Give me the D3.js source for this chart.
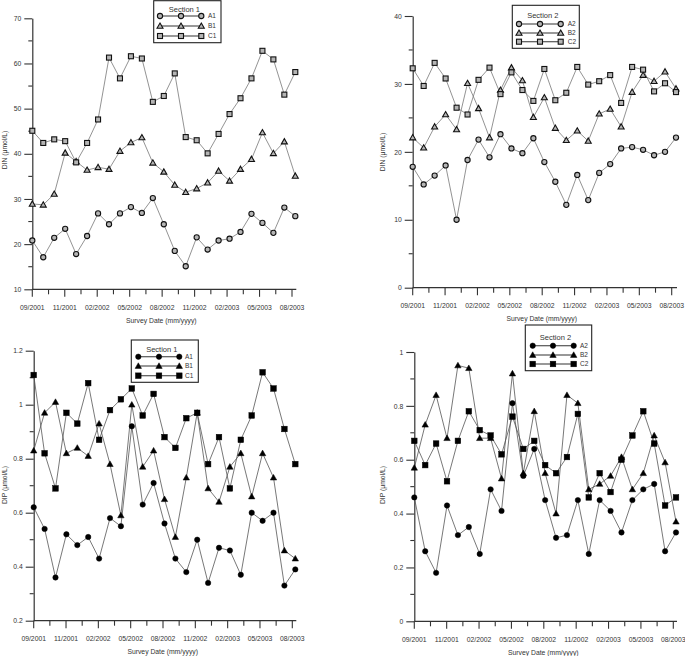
<!DOCTYPE html>
<html>
<head>
<meta charset="utf-8">
<script src="https://cdn.jsdelivr.net/npm/d3@7"></script>
<style>
  body { margin: 0; background: #fff; }
  svg text { font-family: "Liberation Sans", Arial, sans-serif; fill: #333; }
</style>
</head>
<body>
<div id="chart"></div>
<script>
// tick labels on the date axis (every other tick is labelled)
var dateLabels = ["09/2001", "11/2001", "02/2002", "05/2002", "08/2002", "11/2002", "02/2003", "05/2003", "08/2003"];

// DIN, section 1 (umol/L), 25 surveys
var dinA1 = [20.8, 17.1, 21.4, 23.4, 17.8, 21.8, 26.8, 24.4, 26.8, 28.2, 26.9, 30.2, 24.4, 18.5, 15.1, 21.5, 18.8, 20.8, 21.2, 22.7, 26.7, 24.7, 22.5, 28.1, 26.2];
var dinB1 = [28.9, 28.7, 31.1, 40.2, 38.3, 36.4, 37.0, 36.6, 40.6, 42.5, 43.6, 38.0, 36.0, 33.1, 31.5, 32.3, 33.6, 36.2, 34.0, 36.6, 38.8, 44.7, 40.1, 42.7, 35.1];
var dinC1 = [45.1, 42.4, 43.2, 42.8, 38.1, 42.4, 47.6, 61.3, 56.7, 61.6, 61.1, 51.5, 52.8, 57.8, 43.7, 43.0, 40.1, 44.4, 48.8, 52.3, 56.7, 62.8, 60.9, 53.1, 58.1];

// DIN, section 2
var dinA2 = [17.8, 15.2, 16.5, 18.0, 10.0, 18.8, 21.8, 19.2, 22.6, 20.5, 19.8, 22.0, 18.5, 15.6, 12.2, 16.6, 12.9, 16.9, 18.2, 20.5, 20.7, 20.3, 19.5, 20.0, 22.1];
var dinB2 = [22.1, 20.6, 23.7, 25.5, 23.3, 30.1, 26.4, 22.1, 29.1, 32.4, 30.5, 25.1, 28.0, 23.5, 21.7, 23.1, 21.6, 25.6, 26.3, 23.7, 28.8, 31.3, 30.4, 31.8, 29.3];
var dinC2 = [32.3, 29.7, 33.1, 30.8, 26.5, 25.5, 30.6, 32.4, 28.5, 31.7, 29.1, 27.5, 32.2, 27.6, 28.7, 32.5, 29.9, 30.4, 31.3, 27.2, 32.5, 32.1, 28.9, 30.1, 28.8];

// DIP, section 1
var dipA1 = [0.62, 0.54, 0.36, 0.52, 0.48, 0.51, 0.43, 0.58, 0.55, 0.92, 0.63, 0.71, 0.56, 0.43, 0.38, 0.50, 0.34, 0.47, 0.46, 0.37, 0.60, 0.57, 0.60, 0.33, 0.39];
var dipB1 = [0.83, 0.97, 1.01, 0.82, 0.84, 0.81, 0.93, 0.78, 0.59, 1.00, 0.77, 0.83, 0.65, 0.51, 0.73, 0.97, 0.69, 0.64, 0.77, 0.82, 0.66, 0.82, 0.73, 0.46, 0.43];
var dipC1 = [1.11, 0.82, 0.69, 0.97, 0.93, 1.08, 0.87, 0.98, 1.02, 1.06, 0.96, 1.04, 0.88, 0.84, 0.95, 0.97, 0.78, 0.88, 0.69, 0.87, 0.96, 1.12, 1.06, 0.91, 0.78];

// DIP, section 2
var dipA2 = [0.46, 0.26, 0.18, 0.43, 0.32, 0.35, 0.25, 0.49, 0.41, 0.81, 0.54, 0.64, 0.45, 0.31, 0.32, 0.45, 0.25, 0.45, 0.41, 0.33, 0.45, 0.49, 0.51, 0.26, 0.33];
var dipB2 = [0.57, 0.73, 0.84, 0.68, 0.95, 0.94, 0.68, 0.68, 0.53, 0.92, 0.55, 0.78, 0.55, 0.40, 0.84, 0.81, 0.49, 0.51, 0.54, 0.61, 0.49, 0.55, 0.69, 0.59, 0.37];
var dipC2 = [0.67, 0.58, 0.66, 0.52, 0.67, 0.78, 0.71, 0.69, 0.62, 0.76, 0.64, 0.67, 0.58, 0.55, 0.61, 0.77, 0.46, 0.55, 0.48, 0.60, 0.69, 0.78, 0.66, 0.43, 0.46];

var w = 685, h = 656;

var svg = d3.select("#chart").append("svg")
            .attr("width", w)
            .attr("height", h);

var panels = [
  { x0: 32.3, span: 263, tickSpan: 259.7, yTop: 18.3, yBot: 289.3, domain: [10, 70],
    major: [10, 20, 30, 40, 50, 60, 70], minor: [15, 25, 35, 45, 55, 65], fmt: d3.format("d"),
    yTitle: "DIN (\u03bcmol/L)", yTitleX: 5, yTitleY: 150, filled: false,
    series: [["A1", dinA1, "circle"], ["B1", dinB1, "triangle"], ["C1", dinC1, "square"]],
    legend: { x1: 153.7, y1: 0.7, x2: 221, y2: 42.7, title: "Section 1", ty: 9, rows: [16, 26, 36], mx: [160, 181, 201.3], lx: 208 } },
  { x0: 412.7, span: 263.3, tickSpan: 259, yTop: 16, yBot: 287.7, domain: [0, 40],
    major: [0, 10, 20, 30, 40], minor: [5, 15, 25, 35], fmt: d3.format("d"),
    yTitle: "DIN (\u03bcmol/L)", yTitleX: 383, yTitleY: 152, filled: false,
    series: [["A2", dinA2, "circle"], ["B2", dinB2, "triangle"], ["C2", dinC2, "square"]],
    legend: { x1: 512.3, y1: 5.3, x2: 579.3, y2: 48.3, title: "Section 2", ty: 15.7, rows: [24, 33, 41.7], mx: [519, 540, 560.7], lx: 567.7 } },
  { x0: 33.7, span: 261.6, tickSpan: 258.6, yTop: 350.7, yBot: 620.7, domain: [0.2, 1.2],
    major: [0.2, 0.4, 0.6, 0.8, 1, 1.2], minor: [0.3, 0.5, 0.7, 0.9, 1.1], fmt: function(d) { return String(+d.toFixed(1)); },
    yTitle: "DIP (\u03bcmol/L)", yTitleX: 5, yTitleY: 485, filled: true,
    series: [["A1", dipA1, "circle"], ["B1", dipB1, "triangle"], ["C1", dipC1, "square"]],
    legend: { x1: 131.3, y1: 340, x2: 198.3, y2: 382.3, title: "Section 1", ty: 349, rows: [356.7, 366, 375.7], mx: [138.3, 159, 179.3], lx: 185 } },
  { x0: 414.3, span: 261.7, tickSpan: 259, yTop: 352, yBot: 621.3, domain: [0, 1],
    major: [0, 0.2, 0.4, 0.6, 0.8, 1], minor: [0.1, 0.3, 0.5, 0.7, 0.9], fmt: function(d) { return String(+d.toFixed(1)); },
    yTitle: "DIP (\u03bcmol/L)", yTitleX: 383, yTitleY: 485, filled: true,
    series: [["A2", dipA2, "circle"], ["B2", dipB2, "triangle"], ["C2", dipC2, "square"]],
    legend: { x1: 525.3, y1: 325, x2: 591.7, y2: 370.7, title: "Section 2", ty: 337.3, rows: [345.7, 355, 364], mx: [532.7, 553, 573.7], lx: 580 } }
];

function marker(g, shape, x, y, filled) {
  var m;
  if (shape == "circle") {
    m = g.append("circle").attr("cx", x).attr("cy", y).attr("r", filled ? 2.7 : 2.6);
  } else if (shape == "square") {
    var s = filled ? 5.6 : 5;
    m = g.append("rect").attr("x", x - s / 2).attr("y", y - s / 2).attr("width", s).attr("height", s);
  } else {
    var t = filled ? 3.2 : 3;
    m = g.append("path").attr("d", "M" + x + "," + (y - t) + "L" + (x + t) + "," + (y + t * 0.75) + "L" + (x - t) + "," + (y + t * 0.75) + "Z");
  }
  if (filled) {
    m.attr("fill", "#000").attr("stroke", "#000").attr("stroke-width", 0.5);
  } else {
    m.attr("fill", "#b5b5b5").attr("stroke", "#111").attr("stroke-width", 1.1);
  }
  return m;
}

panels.forEach(function(p) {
  var g = svg.append("g");

  var x = d3.scaleLinear().domain([0, 24]).range([p.x0, p.x0 + p.span]);
  var xt = d3.scaleLinear().domain([0, 16]).range([p.x0, p.x0 + p.tickSpan]);
  var y = d3.scaleLinear().domain(p.domain).range([p.yBot, p.yTop]);

  // y axis: major ticks with labels, short minor ticks
  var yAxis = g.append("g").attr("transform", "translate(" + p.x0 + ",0)")
      .call(d3.axisLeft(y).tickValues(p.major).tickFormat(p.fmt).tickSize(8).tickSizeOuter(0).tickPadding(3));
  yAxis.select(".domain").attr("stroke", "#333").attr("stroke-width", 1.2);
  yAxis.selectAll(".tick line").attr("stroke", "#333").attr("stroke-width", 1.1);
  yAxis.selectAll("text").attr("font-size", 6.8).attr("fill", "#444").attr("font-family", "Liberation Sans, Arial, sans-serif");
  g.selectAll(".yminor").data(p.minor).enter().append("line")
      .attr("x1", p.x0 - 4).attr("x2", p.x0)
      .attr("y1", function(d) { return y(d); }).attr("y2", function(d) { return y(d); })
      .attr("stroke", "#333").attr("stroke-width", 1.1);

  // x axis with 17 ticks, labels on every other one
  g.append("line").attr("x1", p.x0).attr("x2", p.x0 + p.span + 1).attr("y1", p.yBot).attr("y2", p.yBot)
      .attr("stroke", "#333").attr("stroke-width", 1.2);
  g.selectAll(".xtick").data(d3.range(17)).enter().append("line")
      .attr("x1", function(d) { return xt(d); }).attr("x2", function(d) { return xt(d); })
      .attr("y1", p.yBot).attr("y2", function(d) { return p.yBot + (d % 2 == 0 ? 7.5 : 5); })
      .attr("stroke", "#333").attr("stroke-width", 1.1);
  g.selectAll(".xlab").data(dateLabels).enter().append("text")
      .attr("x", function(d, i) { return xt(i * 2); })
      .attr("y", p.yBot + 20.5)
      .attr("text-anchor", "middle").attr("font-size", 6.8).attr("fill", "#444")
      .text(function(d) { return d; });

  g.append("text").attr("x", p.x0 + 129).attr("y", p.yBot + 33.5)
      .attr("text-anchor", "middle").attr("font-size", 6.8).attr("fill", "#444")
      .text("Survey Date (mm/yyyy)");
  g.append("text").attr("transform", "translate(" + p.yTitleX + "," + p.yTitleY + ") rotate(-90)")
      .attr("dy", "0.35em").attr("text-anchor", "middle").attr("font-size", 6.8).attr("fill", "#444")
      .text(p.yTitle);

  var line = d3.line().x(function(d, i) { return x(i); }).y(function(d) { return y(d); });

  p.series.forEach(function(s) {
    g.append("path").datum(s[1]).attr("d", line)
        .attr("fill", "none").attr("stroke", p.filled ? "#555" : "#777").attr("stroke-width", 0.8);
  });
  p.series.forEach(function(s) {
    var mg = g.append("g");
    s[1].forEach(function(v, i) { marker(mg, s[2], x(i), y(v), p.filled); });
  });

  // legend box
  var L = p.legend;
  var lg = svg.append("g");
  lg.append("rect").attr("x", L.x1).attr("y", L.y1).attr("width", L.x2 - L.x1).attr("height", L.y2 - L.y1)
      .attr("fill", "#fff").attr("stroke", "#222").attr("stroke-width", 1.1);
  lg.append("text").attr("x", (L.x1 + L.x2) / 2 - 3).attr("y", L.ty).attr("dy", "0.35em")
      .attr("text-anchor", "middle").attr("font-size", 7.5).attr("fill", "#222").text(L.title);
  p.series.forEach(function(s, k) {
    lg.append("line").attr("x1", L.mx[0]).attr("x2", L.mx[2]).attr("y1", L.rows[k]).attr("y2", L.rows[k])
        .attr("stroke", "#333").attr("stroke-width", 1.1);
    L.mx.forEach(function(mx) { marker(lg, s[2], mx, L.rows[k], p.filled); });
    lg.append("text").attr("x", L.lx).attr("y", L.rows[k]).attr("dy", "0.35em")
        .attr("font-size", 6.5).attr("fill", "#444").text(s[0]);
  });
});
</script>
</body>
</html>
